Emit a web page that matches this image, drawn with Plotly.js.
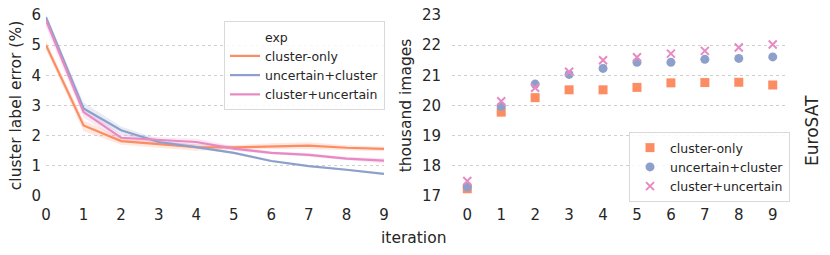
<!DOCTYPE html>
<html>
<head>
<meta charset="utf-8">
<script src="https://cdn.plot.ly/plotly-3.0.1.min.js"></script>
<style>html,body{margin:0;padding:0;background:#fff;}#chart{width:830px;height:255px;}</style>
</head>
<body>
<div id="chart"></div>
<script>
// ---- data ----
const iterations = [0,1,2,3,4,5,6,7,8,9];
const seriesNames = ["cluster-only", "uncertain+cluster", "cluster+uncertain"];
const colors = ["#fc8d62", "#8da0cb", "#e78ac3"];

// left: cluster label error (%)
const errClusterOnly      = [5.00, 2.34, 1.82, 1.71, 1.62, 1.61, 1.65, 1.67, 1.60, 1.56];
const errClusterOnlyLo    = [4.85, 2.15, 1.70, 1.60, 1.50, 1.55, 1.55, 1.55, 1.52, 1.48];
const errClusterOnlyHi    = [5.15, 2.50, 1.95, 1.80, 1.72, 1.68, 1.75, 1.78, 1.68, 1.63];
const errUncertainCluster   = [5.93, 2.90, 2.18, 1.79, 1.62, 1.43, 1.16, 0.99, 0.87, 0.73];
const errUncertainClusterLo = [5.85, 2.75, 2.05, 1.72, 1.57, 1.40, 1.13, 0.96, 0.84, 0.70];
const errUncertainClusterHi = [6.00, 3.10, 2.30, 1.88, 1.68, 1.47, 1.20, 1.02, 0.90, 0.76];
const errClusterUncertain   = [5.82, 2.78, 1.93, 1.85, 1.79, 1.57, 1.43, 1.36, 1.24, 1.17];
const errClusterUncertainLo = [5.60, 2.60, 1.80, 1.75, 1.68, 1.50, 1.38, 1.30, 1.18, 1.08];
const errClusterUncertainHi = [5.95, 2.95, 2.05, 1.95, 1.90, 1.65, 1.48, 1.42, 1.30, 1.26];

// right: thousand images
const imgClusterOnly      = [17.24, 19.78, 20.26, 20.52, 20.52, 20.60, 20.75, 20.76, 20.77, 20.68];
const imgUncertainCluster = [17.30, 19.97, 20.71, 21.03, 21.23, 21.43, 21.43, 21.53, 21.56, 21.61];
const imgClusterUncertain = [17.50, 20.14, 20.59, 21.12, 21.50, 21.60, 21.72, 21.81, 21.92, 22.02];

const leftTicks = [0,1,2,3,4,5,6];
const rightTicks = [17,18,19,20,21,22,23];

// ---- build ----
function rgba(hex, a){
  const n = parseInt(hex.slice(1),16);
  return `rgba(${(n>>16)&255},${(n>>8)&255},${n&255},${a})`;
}
const err = [errClusterOnly, errUncertainCluster, errClusterUncertain];
const errLo = [errClusterOnlyLo, errUncertainClusterLo, errClusterUncertainLo];
const errHi = [errClusterOnlyHi, errUncertainClusterHi, errClusterUncertainHi];
const imgs = [imgClusterOnly, imgUncertainCluster, imgClusterUncertain];
const symbols = ["square", "circle", "x-thin"];

const traces = [];
for (let i=0;i<3;i++){
  traces.push({x:iterations, y:errHi[i], xaxis:'x', yaxis:'y', mode:'lines',
    line:{width:0, color:rgba(colors[i],0)}, showlegend:false, hoverinfo:'skip'});
  traces.push({x:iterations, y:errLo[i], xaxis:'x', yaxis:'y', mode:'lines',
    line:{width:0, color:rgba(colors[i],0)}, fill:'tonexty', fillcolor:rgba(colors[i],0.2),
    showlegend:false, hoverinfo:'skip'});
}
// legend title row "exp"
traces.push({x:[null], y:[null], xaxis:'x', yaxis:'y', mode:'lines', name:'exp',
  line:{color:'rgba(0,0,0,0)', width:2}, legend:'legend'});
for (let i=0;i<3;i++){
  traces.push({x:iterations, y:err[i], xaxis:'x', yaxis:'y', mode:'lines', name:seriesNames[i],
    line:{color:colors[i], width:2.2}, legend:'legend'});
}
for (let i=0;i<3;i++){
  const m = {symbol:symbols[i], color:colors[i], size: i===2 ? 8 : 9};
  if (i===2) m.line = {color:colors[i], width:2};
  else m.line = {width:0};
  traces.push({x:iterations, y:imgs[i], xaxis:'x2', yaxis:'y2', mode:'markers', name:seriesNames[i],
    marker:m, legend:'legend2'});
}

const font = {family:'"DejaVu Sans", sans-serif', color:'#262626'};
const gridStyle = {showgrid:true, gridcolor:'#cfcfcf', griddash:'dot', gridwidth:1,
  zeroline:false, showline:false, ticks:'', tickfont:{size:15}};

const layout = {
  width:830, height:255,
  margin:{l:0,r:0,t:0,b:0},
  paper_bgcolor:'#fff', plot_bgcolor:'#fff',
  font: Object.assign({size:15}, font),
  xaxis: Object.assign({}, gridStyle, {domain:[46/830, 384/830], range:[0,9], showgrid:false,
    tickvals:iterations, anchor:'y', ticklabelstandoff:8}),
  yaxis: Object.assign({}, gridStyle, {domain:[(255-196)/255, (255-15)/255], range:[0,6],
    tickvals:leftTicks, anchor:'x', ticklabelstandoff:4,
    title:{text:'cluster label error (%)', font:{size:15.5}, standoff:6}}),
  xaxis2: Object.assign({}, gridStyle, {domain:[452/830, 788/830], range:[-0.45,9.45], showgrid:false,
    tickvals:iterations, anchor:'y2', ticklabelstandoff:8}),
  yaxis2: Object.assign({}, gridStyle, {domain:[(255-196)/255, (255-15)/255], range:[17,23],
    tickvals:rightTicks, anchor:'x2', ticklabelstandoff:10,
    title:{text:'thousand images', font:{size:15.5}, standoff:6}}),
  legend:{x:224/830, y:(255-21)/255, xanchor:'left', yanchor:'top', bgcolor:'rgba(255,255,255,0.85)',
    bordercolor:'#d9d9d9', borderwidth:1, font:{size:12.5}, itemwidth:30, traceorder:'normal'},
  legend2:{x:629/830, y:(255-132)/255, xanchor:'left', yanchor:'top', bgcolor:'rgba(255,255,255,0.85)',
    bordercolor:'#d9d9d9', borderwidth:1, font:{size:12.5}, itemwidth:30, traceorder:'normal'},
  annotations:[
    {text:'iteration', xref:'paper', yref:'paper', x:413/830, y:(255-238)/255, showarrow:false,
      xanchor:'center', yanchor:'middle', font:{size:15.5}},
    {text:'EuroSAT', xref:'paper', yref:'paper', x:812/830, y:(255-131)/255, showarrow:false,
      textangle:-90, xanchor:'center', yanchor:'middle', font:{size:17}}
  ],
  showlegend:true
};

Plotly.newPlot('chart', traces, layout, {displayModeBar:false, staticPlot:true});
</script>
</body>
</html>
